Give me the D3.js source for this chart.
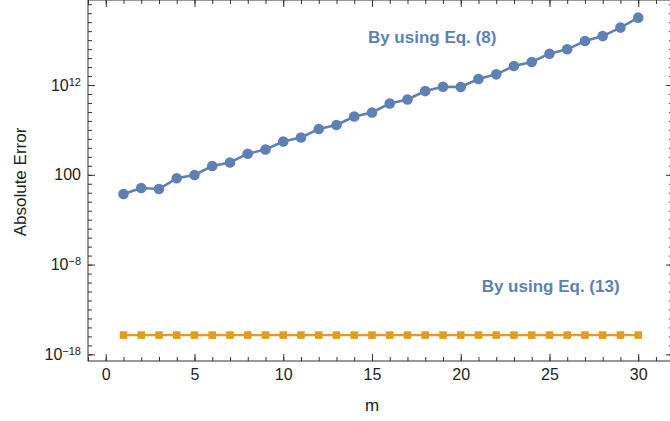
<!DOCTYPE html>
<html>
<head>
<meta charset="utf-8">
<script src="https://cdn.jsdelivr.net/npm/d3@7"></script>
<style>
  body { margin: 0; background: #fff; }
  svg { display: block; font-family: "Liberation Sans", Arial, sans-serif; }
</style>
</head>
<body>
<div id="chart"></div>
<script>
'use strict';

// data
const mValues = [1, 2, 3, 4, 5, 6, 7, 8, 9, 10, 11, 12, 13, 14, 15,
  16, 17, 18, 19, 20, 21, 22, 23, 24, 25, 26, 27, 28, 29, 30]
const eq8Error = [0.72, 3.4, 2.6, 41, 95, 955, 2340, 2.24e4, 6.6e4, 5.1e5,
  1.45e6, 1.26e7, 3.5e7, 3.1e8, 8.7e8, 8.7e9, 2.45e10, 2.1e11, 6.5e11, 6.0e11,
  4.7e12, 1.55e13, 1.3e14, 3.7e14, 3.1e15, 9.5e15, 7.9e16, 2.8e17, 2.5e18, 3.2e19]
const eq13Error = [1.4e-16, 1.4e-16, 1.4e-16, 1.4e-16, 1.4e-16, 1.4e-16, 1.4e-16,
  1.4e-16, 1.4e-16, 1.4e-16, 1.4e-16, 1.4e-16, 1.4e-16, 1.4e-16, 1.4e-16,
  1.4e-16, 1.4e-16, 1.4e-16, 1.4e-16, 1.4e-16, 1.4e-16, 1.4e-16, 1.4e-16,
  1.4e-16, 1.4e-16, 1.4e-16, 1.4e-16, 1.4e-16, 1.4e-16, 1.4e-16]

const xMajorTicks = [0, 5, 10, 15, 20, 25, 30]
const xMinorTicks = d3.range(-1, 32)
const yMajorTicks = [1e-18, 1e-8, 100, 1e12]
const yMajorLabels = [['10', '\u221218'], ['10', '\u22128'], ['100', ''], ['10', '12']]
const yMinorTicks = d3.range(-18, 22).map(e => Math.pow(10, e))

const labelEq8 = { text: 'By using Eq. (8)', m: 14.77, value: 4.8e16 }
const labelEq13 = { text: 'By using Eq. (13)', m: 21.18, value: 8.7e-12 }

const blue = '#5E81B5'
const orange = '#E19C24'

const dims = { width: 670, height: 421, left: 88, right: 673, top: 0, bottom: 361 }

const svg = d3.select('#chart')
  .append('svg')
  .attr('width', dims.width)
  .attr('height', dims.height)

const xScale = d3.scaleLinear()
  .domain([-1, 31.96])
  .range([dims.left, dims.right])

const yScale = d3.scaleLog()
  .domain([Math.pow(10, -18.74), Math.pow(10, 21.47)])
  .range([dims.bottom, dims.top])

const frameColor = '#333'

// minor ticks (no labels)
const minorX = (g, axis) => g.call(axis).call(g => g.select('.domain').remove())
  .call(g => g.selectAll('line').attr('stroke', frameColor))
svg.append('g')
  .attr('transform', `translate(0, ${dims.bottom})`)
  .call(g => minorX(g, d3.axisBottom(xScale).tickValues(xMinorTicks).tickSize(-4).tickFormat('')))
svg.append('g')
  .attr('transform', `translate(0, ${dims.top})`)
  .call(g => minorX(g, d3.axisBottom(xScale).tickValues(xMinorTicks).tickSize(4).tickFormat('')))
svg.append('g')
  .attr('transform', `translate(${dims.left}, 0)`)
  .call(g => minorX(g, d3.axisLeft(yScale).tickValues(yMinorTicks).tickSize(-4).tickFormat('')))
svg.append('g')
  .attr('transform', `translate(${dims.right}, 0)`)
  .call(g => minorX(g, d3.axisRight(yScale).tickValues(yMinorTicks).tickSize(-4).tickFormat('')))

// major ticks
const xAxisGroup = svg.append('g')
  .attr('transform', `translate(0, ${dims.bottom})`)
  .call(d3.axisBottom(xScale).tickValues(xMajorTicks).tickSize(-7).tickPadding(8))
xAxisGroup.select('.domain').remove()
xAxisGroup.selectAll('line').attr('stroke', frameColor)
xAxisGroup.selectAll('text')
  .attr('fill', '#222')
  .style('font-size', '16px')

svg.append('g')
  .attr('transform', `translate(0, ${dims.top})`)
  .call(d3.axisBottom(xScale).tickValues(xMajorTicks).tickSize(7).tickFormat(''))
  .call(g => g.select('.domain').remove())
  .call(g => g.selectAll('line').attr('stroke', frameColor))

const yAxisGroup = svg.append('g')
  .attr('transform', `translate(${dims.left}, 0)`)
  .call(d3.axisLeft(yScale).tickValues(yMajorTicks).tickSize(-7).tickPadding(7).tickFormat(''))
yAxisGroup.select('.domain').remove()
yAxisGroup.selectAll('line').attr('stroke', frameColor)
yAxisGroup.selectAll('text')
  .attr('fill', '#222')
  .style('font-size', '16px')
  .each(function(d, i){
    const t = d3.select(this)
    t.append('tspan').text(yMajorLabels[i][0])
    if(yMajorLabels[i][1] !== ''){
      t.append('tspan')
        .attr('dy', '-0.45em')
        .style('font-size', '11px')
        .text(yMajorLabels[i][1])
    }
  })

svg.append('g')
  .attr('transform', `translate(${dims.right}, 0)`)
  .call(d3.axisRight(yScale).tickValues(yMajorTicks).tickSize(-7).tickFormat(''))
  .call(g => g.select('.domain').remove())
  .call(g => g.selectAll('line').attr('stroke', frameColor))

// frame
svg.append('rect')
  .attr('x', dims.left)
  .attr('y', dims.top)
  .attr('width', dims.right - dims.left)
  .attr('height', dims.bottom - dims.top)
  .attr('fill', 'none')
  .attr('stroke', frameColor)
  .attr('stroke-width', 1)

// series
const eq8Data = mValues.map((m, i) => ({ m: m, v: eq8Error[i] }))
const eq13Data = mValues.map((m, i) => ({ m: m, v: eq13Error[i] }))
const line = d3.line().x(d => xScale(d.m)).y(d => yScale(d.v))

const plot = svg.append('g')

plot.append('path')
  .datum(eq13Data)
  .attr('d', line)
  .attr('fill', 'none')
  .attr('stroke', orange)
  .attr('stroke-width', 2.2)
plot.selectAll('.sq')
  .data(eq13Data)
  .join('rect')
  .attr('class', 'sq')
  .attr('x', d => xScale(d.m) - 3.8)
  .attr('y', d => yScale(d.v) - 3.8)
  .attr('width', 7.6)
  .attr('height', 7.6)
  .attr('fill', orange)

plot.append('path')
  .datum(eq8Data)
  .attr('d', line)
  .attr('fill', 'none')
  .attr('stroke', blue)
  .attr('stroke-width', 2.6)
plot.selectAll('.dot')
  .data(eq8Data)
  .join('circle')
  .attr('class', 'dot')
  .attr('cx', d => xScale(d.m))
  .attr('cy', d => yScale(d.v))
  .attr('r', 5.3)
  .attr('fill', blue)

// series labels
;[labelEq8, labelEq13].forEach(l => {
  svg.append('text')
    .attr('x', xScale(l.m))
    .attr('y', yScale(l.value))
    .attr('fill', blue)
    .style('font-size', '17px')
    .style('font-weight', 'bold')
    .text(l.text)
})

// axis titles
svg.append('text')
  .attr('x', xScale(15))
  .attr('y', 411)
  .attr('text-anchor', 'middle')
  .attr('fill', '#222')
  .style('font-size', '17px')
  .text('m')

svg.append('text')
  .attr('transform', 'translate(25.5, 182) rotate(-90)')
  .attr('text-anchor', 'middle')
  .attr('fill', '#222')
  .style('font-size', '17px')
  .text('Absolute Error')
</script>
</body>
</html>
